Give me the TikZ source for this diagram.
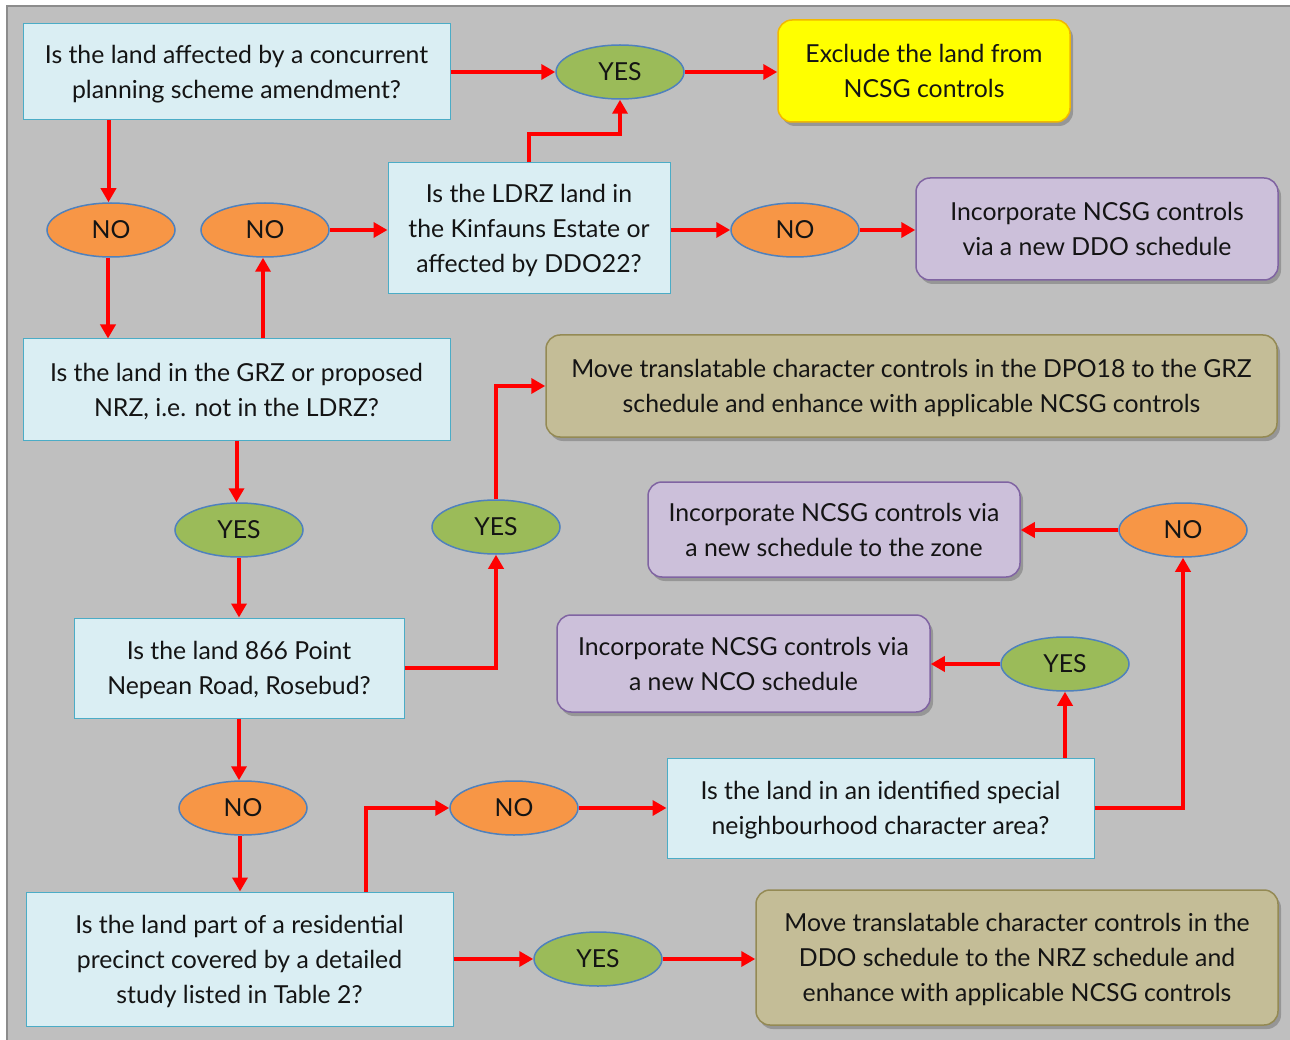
\documentclass[tikz,border=0pt]{standalone}
\usepackage{fontspec}
\setmainfont{Lato}
\usetikzlibrary{shapes.geometric,arrows.meta,shadows}
\definecolor{bg}{HTML}{BFBFBF}
\definecolor{qfill}{HTML}{DAEEF3}
\definecolor{qborder}{HTML}{4BACC6}
\definecolor{yesfill}{HTML}{9BBB59}
\definecolor{nofill}{HTML}{F79646}
\definecolor{ellborder}{HTML}{4F81BD}
\definecolor{yelfill}{HTML}{FFFF00}
\definecolor{yelborder}{HTML}{F2B800}
\definecolor{purfill}{HTML}{CCC0DA}
\definecolor{purborder}{HTML}{8064A2}
\definecolor{khfill}{HTML}{C4BD97}
\definecolor{khborder}{HTML}{948A54}
\definecolor{txt}{HTML}{141414}
\begin{document}
\begin{tikzpicture}[x=1pt,y=-1pt,
  every node/.style={text=txt, font=\fontsize{24.8}{35}\selectfont, align=center, inner sep=0pt},
  qbox/.style={rectangle, draw=qborder, fill=qfill, line width=1pt, text depth=0pt},
  ell/.style={ellipse, draw=ellborder, line width=1.5pt, minimum width=128pt, minimum height=54pt},
  yesell/.style={ell, fill=yesfill},
  noell/.style={ell, fill=nofill},
  res/.style={rectangle, rounded corners=14pt, line width=1.5pt, text depth=0pt,
    drop shadow={shadow xshift=3pt, shadow yshift=-4pt, opacity=0.45, fill=black!60}},
  yelbox/.style={res, fill=yelfill, draw=yelborder},
  purbox/.style={res, fill=purfill, draw=purborder},
  khbox/.style={res, fill=khfill, draw=khborder},
  arr/.style={draw=red, line width=4pt, -{Triangle[length=14pt,width=15pt]}}
]
\useasboundingbox (0,0) rectangle (1290,1040);
\fill[white] (0,0) rectangle (1290,1040);
\filldraw[fill=bg, draw=black!45, line width=1.5pt] (7,6) rectangle (1293,1043);

% questions
\node[qbox, minimum width=427pt, minimum height=96pt] (q1) at (236.5,72) {Is the land affected by a concurrent\\planning scheme amendment?};
\node[qbox, minimum width=282pt, minimum height=131pt] (q2) at (529,228.5) {Is the LDRZ land in\\the Kinfauns Estate or\\affected by DDO22?};
\node[qbox, minimum width=427pt, minimum height=101pt] (q3) at (236.5,389.5) {Is the land in the GRZ or proposed\\NRZ, i.e. not in the LDRZ?};
\node[qbox, minimum width=330pt, minimum height=100pt] (q4) at (239,668) {Is the land 866 Point\\Nepean Road, Rosebud?};
\node[qbox, minimum width=427pt, minimum height=100pt] (q5) at (880.5,808) {Is the land in an identified special\\neighbourhood character area?};
\node[qbox, minimum width=427pt, minimum height=134pt] (q6) at (239.5,959) {Is the land part of a residential\\precinct covered by a detailed\\study listed in Table 2?};

% outcomes
\node[yelbox, minimum width=292pt, minimum height=102pt] (excl) at (924,71) {Exclude the land from\\NCSG controls};
\node[purbox, minimum width=362pt, minimum height=102pt] (ddo) at (1097,229) {Incorporate NCSG controls\\via a new DDO schedule};
\node[khbox, minimum width=731pt, minimum height=102pt] (move1) at (911.5,386) {Move translatable character controls in the DPO18 to the GRZ\\schedule and enhance with applicable NCSG controls};
\node[purbox, minimum width=372pt, minimum height=95pt] (zone) at (834,529.5) {Incorporate NCSG controls via\\a new schedule to the zone};
\node[purbox, minimum width=373pt, minimum height=97pt] (nco) at (743.5,663.5) {Incorporate NCSG controls via\\a new NCO schedule};
\node[khbox, minimum width=522pt, minimum height=135pt] (move2) at (1017,957.5) {Move translatable character controls in the\\DDO schedule to the NRZ schedule and\\enhance with applicable NCSG controls};

% decisions
\node[yesell] (yes1) at (620,72) {YES};
\node[noell] (no1) at (111,230) {NO};
\node[noell] (no2) at (265,230) {NO};
\node[noell] (no3) at (795,230) {NO};
\node[yesell] (yes2) at (239,530) {YES};
\node[yesell] (yes3) at (496,527) {YES};
\node[noell] (no4) at (1183,530) {NO};
\node[yesell] (yes4) at (1065,664) {YES};
\node[noell] (no5) at (243,808) {NO};
\node[noell] (no6) at (514,808) {NO};
\node[yesell] (yes5) at (598,959) {YES};

% connectors
\draw[arr] (q1.east) -- (yes1.west);
\draw[arr] (yes1.east) -- (excl.west |- yes1.east);
\draw[arr] ([xshift=-128pt]q1.south) -- ([xshift=-128pt]q1.south |- no1.north);
\draw[arr] (no1.south -| 108,0) -- (108,0 |- q3.north);
\draw[arr] (263,0 |- q3.north) -- (263,0 |- no2.south);
\draw[arr] (no2.east) -- (q2.west |- no2.east);
\draw[arr] (q2.north) -- ++(0,-28) -| (yes1.south);
\draw[arr] (q2.east |- no3.west) -- (no3.west);
\draw[arr] (no3.east) -- (ddo.west |- no3.east);
\draw[arr] (q3.south) -- (q3.south |- yes2.north);
\draw[arr] (yes2.south) -- (q4.north -| yes2.south);
\draw[arr] (q4.east) -| (yes3.south);
\draw[arr] (yes3.north) |- (move1.west);
\draw[arr] (q4.north |- q4.south) -- (q4.south |- no5.north);
\draw[arr] (240,0 |- no5.south) -- (240,0 |- q6.north);
\draw[arr] ([xshift=126pt]q6.north) |- (no6.west);
\draw[arr] (no6.east) -- (q5.west);
\draw[arr] (yes4.south |- q5.north) -- (yes4.south);
\draw[arr] (yes4.west) -- (nco.east |- yes4.west);
\draw[arr] (q5.east) -| (no4.south);
\draw[arr] (no4.west) -- (zone.east |- no4.west);
\draw[arr] (q6.east) -- (yes5.west);
\draw[arr] (yes5.east) -- (move2.west |- yes5.east);
\end{tikzpicture}
\end{document}
